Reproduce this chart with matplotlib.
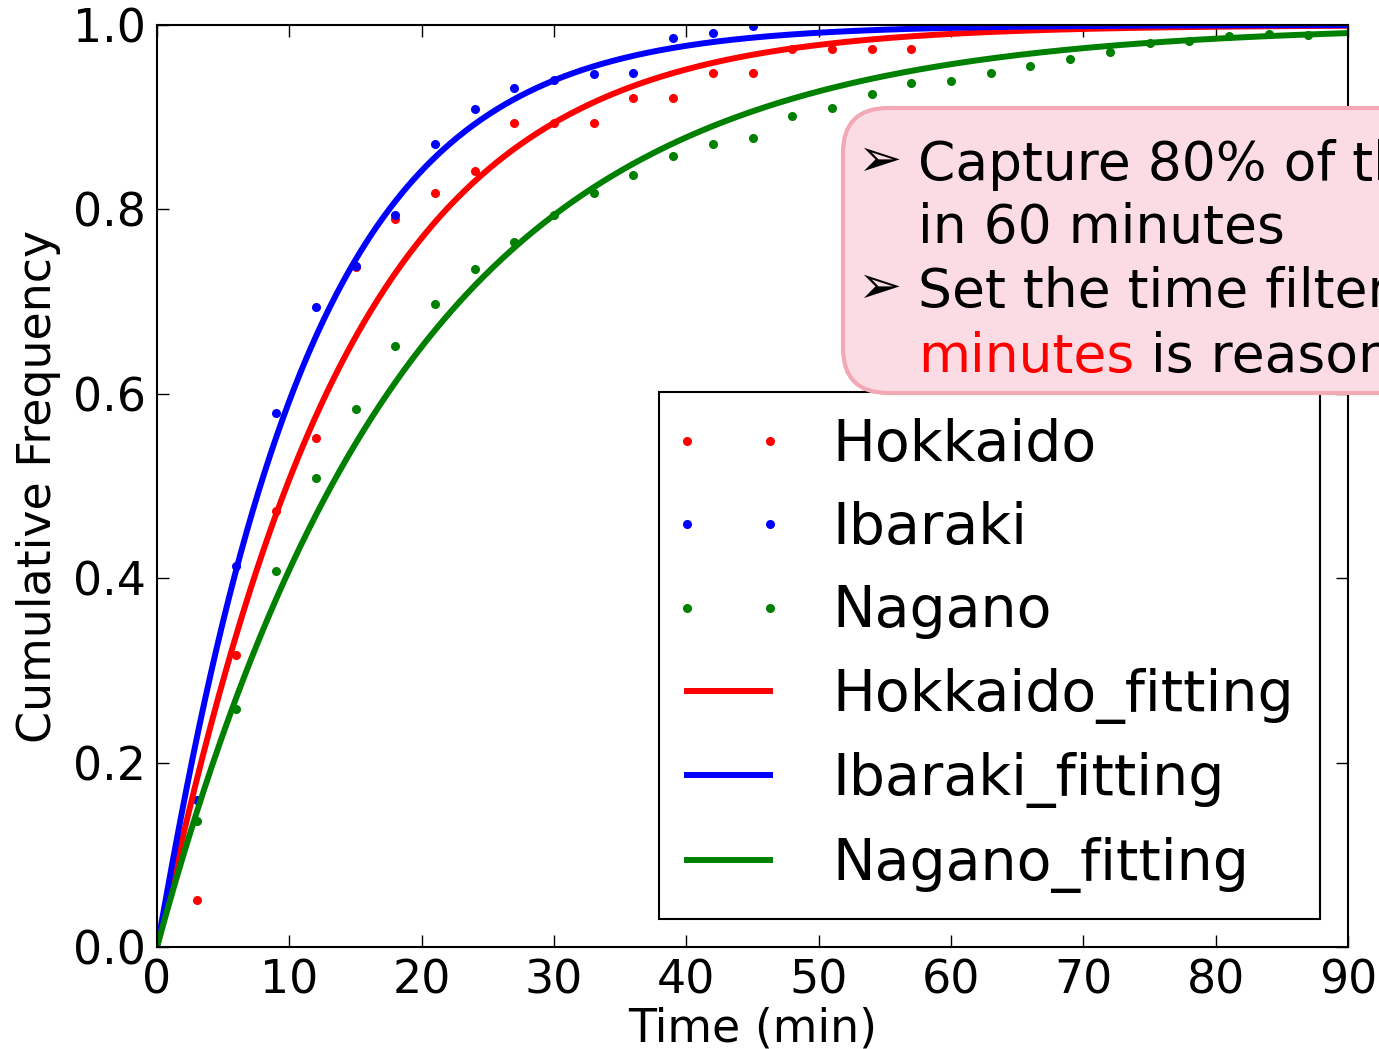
# Cumulative frequency of trip time with Weibull-type fits
import numpy as np
import matplotlib
matplotlib.use("Agg")
import matplotlib.pyplot as plt
from matplotlib.patches import FancyBboxPatch
from matplotlib.transforms import IdentityTransform
from matplotlib.legend_handler import HandlerLine2D

# observed points (every 3 minutes)
hokkaido_t = [3, 6, 9, 12, 15, 18, 21, 24, 27, 30, 33, 36, 39, 42, 45, 48, 51, 54, 57]
hokkaido_cf = [0.051, 0.317, 0.473, 0.552, 0.737, 0.790, 0.818, 0.842, 0.894, 0.894,
               0.894, 0.921, 0.921, 0.948, 0.948, 0.974, 0.974, 0.974, 0.974]

ibaraki_t = [3, 6, 9, 12, 15, 18, 21, 24, 27, 30, 33, 36, 39, 42, 45]
ibaraki_cf = [0.159, 0.413, 0.579, 0.694, 0.739, 0.794, 0.871, 0.909, 0.932, 0.940,
              0.947, 0.948, 0.986, 0.991, 0.999]

nagano_t = [3, 6, 9, 12, 15, 18, 21, 24, 27, 30, 33, 36, 39, 42, 45, 48, 51, 54, 57,
            60, 63, 66, 69, 72, 75, 78, 81, 84, 87]
nagano_cf = [0.137, 0.258, 0.408, 0.509, 0.583, 0.652, 0.697, 0.735, 0.765, 0.794,
             0.818, 0.837, 0.858, 0.871, 0.877, 0.901, 0.910, 0.925, 0.937, 0.939,
             0.948, 0.956, 0.963, 0.971, 0.981, 0.983, 0.988, 0.990, 0.989]

# fitted parameters (scale, shape)
fit_scale = {'Hokkaido': 13.9, 'Ibaraki': 11.1, 'Nagano': 19.0}
fit_shape = {'Hokkaido': 1.05, 'Ibaraki': 1.04, 'Nagano': 1.0}

x_ticks = [0, 10, 20, 30, 40, 50, 60, 70, 80, 90]
y_ticks = [0.0, 0.2, 0.4, 0.6, 0.8, 1.0]

note_lines = ["Capture 80% of the trips", "in 60 minutes", "Set the time filter to 60"]
note_red = "minutes"
note_tail = " is reasonable"

W, H = 1379, 1049
fig = plt.figure(figsize=(W / 100, H / 100), dpi=100)
ax = fig.add_axes([157 / W, 1 - 947 / H, (1348 - 157) / W, (947 - 25) / H])

t_fit = np.linspace(0, 90, 600)


def weibull_cdf(t, name):
    return 1 - np.exp(-(t / fit_scale[name]) ** fit_shape[name])


ax.plot(hokkaido_t, hokkaido_cf, '.', color='red', ms=10, mew=1.5, label='Hokkaido')
ax.plot(ibaraki_t, ibaraki_cf, '.', color='blue', ms=10, mew=1.5, label='Ibaraki')
ax.plot(nagano_t, nagano_cf, '.', color='green', ms=10, mew=1.5, label='Nagano')
ax.plot(t_fit, weibull_cdf(t_fit, 'Hokkaido'), color='red', lw=4.3, label='Hokkaido_fitting')
ax.plot(t_fit, weibull_cdf(t_fit, 'Ibaraki'), color='blue', lw=4.3, label='Ibaraki_fitting')
ax.plot(t_fit, weibull_cdf(t_fit, 'Nagano'), color='green', lw=4.3, label='Nagano_fitting')

ax.set_xlim(0, 90)
ax.set_ylim(0, 1.0)
ax.set_xticks(x_ticks)
ax.set_yticks(y_ticks)
ax.set_yticklabels([f"{v:.1f}" for v in y_ticks])
ax.tick_params(direction='in', length=8.6, width=1, top=True, right=True,
               labelsize=33, pad=8)
for sp in ax.spines.values():
    sp.set_linewidth(1.5)

ax.set_xlabel("Time (min)", fontsize=33, labelpad=2.5)
ax.set_ylabel("Cumulative Frequency", fontsize=33, labelpad=8.5)

leg = ax.legend(loc='lower right', fontsize=41, numpoints=2, handlelength=1.55,
                handletextpad=1.05, borderpad=0.45, labelspacing=0.5,
                borderaxespad=0.5, fancybox=False, edgecolor='black', framealpha=1,
                handler_map={matplotlib.lines.Line2D: HandlerLine2D(marker_pad=0.05, numpoints=2)})
leg.get_frame().set_linewidth(1.5)

# pink note box (runs off the right edge)
box = FancyBboxPatch((843, H - 393), 700, 285, boxstyle='round,pad=0,rounding_size=45',
                     facecolor='#fcdce4', edgecolor='#f3a9b5', lw=3,
                     transform=IdentityTransform(), zorder=5)
fig.add_artist(box)

baselines = [180, 243, 307, 372]
for i, line in enumerate(note_lines):
    fig.text(918, H - baselines[i], line, fontsize=38.5, va='baseline',
             transform=IdentityTransform(), zorder=6)
for b in (baselines[0], baselines[2]):
    fig.text(857, H - b + 4, "\u27a2", fontsize=38, va='baseline',
             family=['DejaVu Sans', 'Noto Sans'], transform=IdentityTransform(), zorder=6)

t_red = fig.text(918, H - baselines[3], note_red, fontsize=38.5, color='red', va='baseline',
                 transform=IdentityTransform(), zorder=6)
fig.canvas.draw()
ext = t_red.get_window_extent(fig.canvas.get_renderer())
fig.text(ext.x1, H - baselines[3], note_tail, fontsize=38.5, va='baseline',
         transform=IdentityTransform(), zorder=6)

fig.savefig('out.png', dpi=100)
